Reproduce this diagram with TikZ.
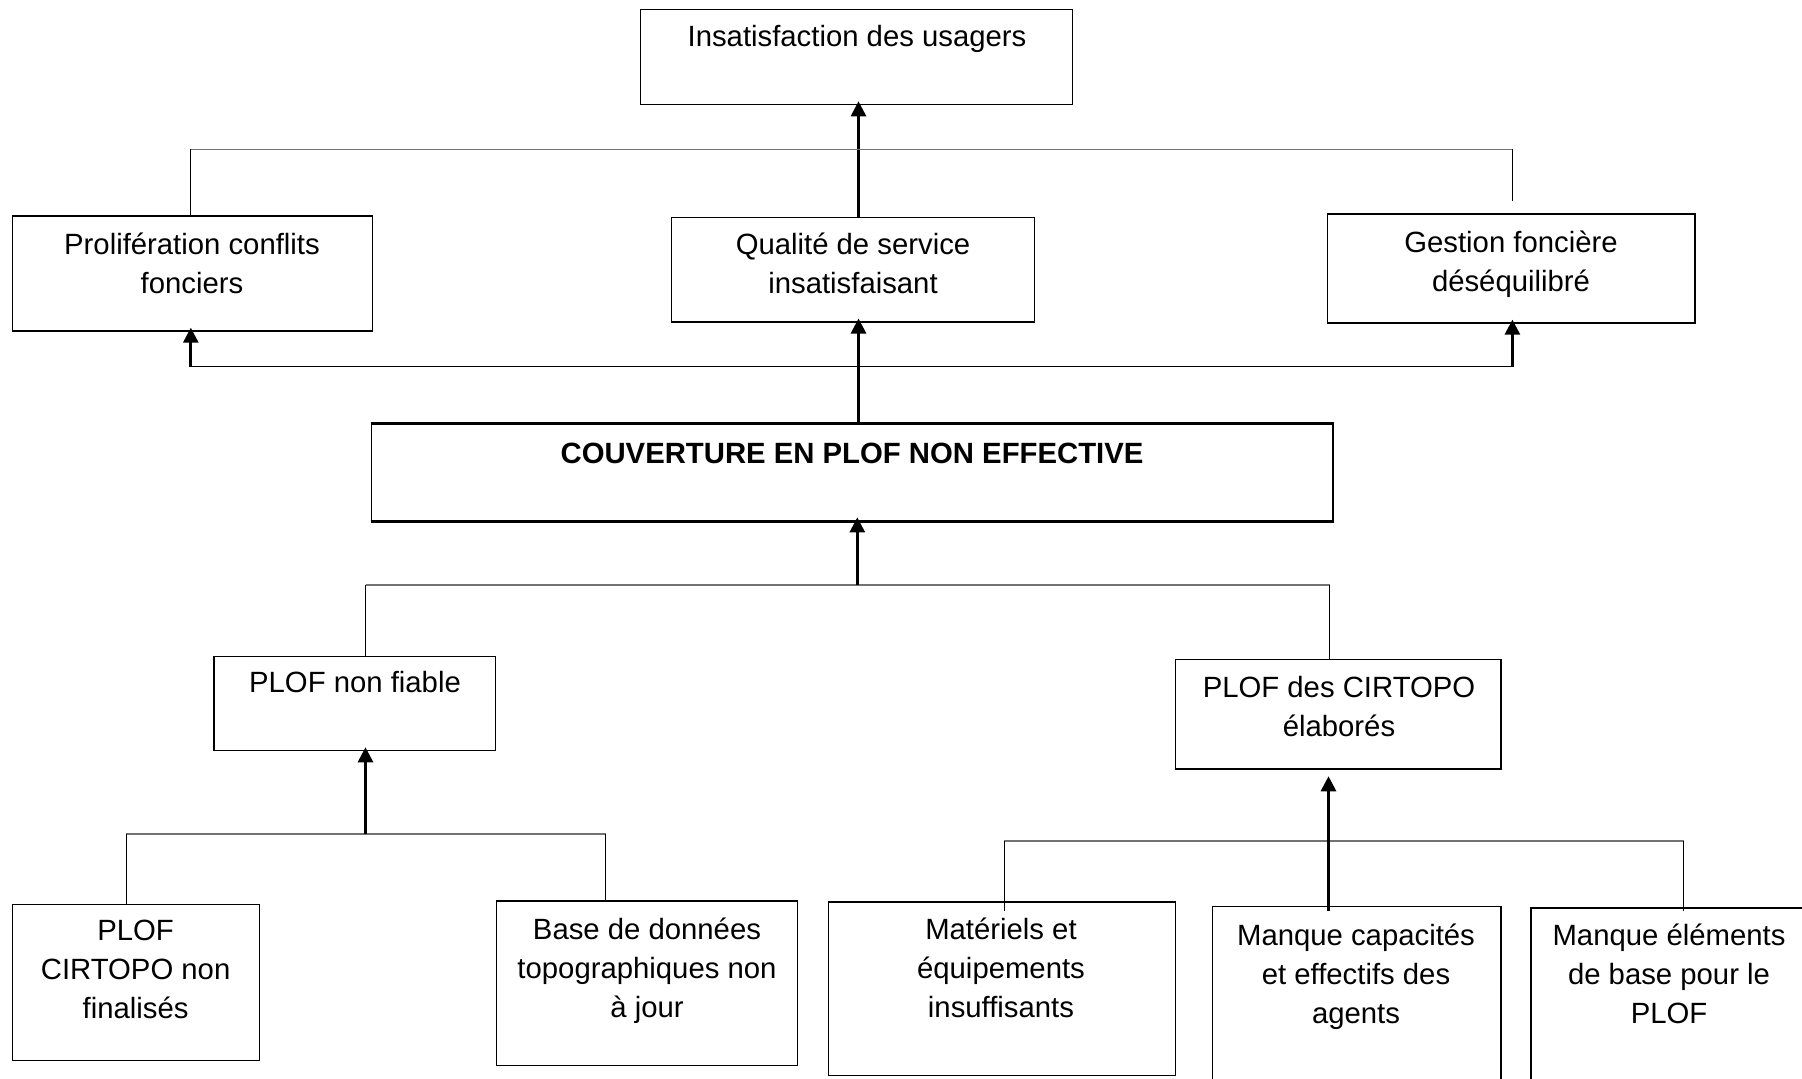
\documentclass[tikz,border=0pt]{standalone}
\usepackage{fontspec}
\setmainfont{Liberation Sans}
\usetikzlibrary{arrows.meta}
\begin{document}
\begin{tikzpicture}[x=1pt,y=-1pt,
  box/.style={draw=black,line width=1.4pt,rectangle,inner sep=0pt},
  lbl/.style={anchor=north,align=center,inner sep=0pt,font=\fontsize{29.3}{39}\selectfont},
  arr/.style={line width=2.8pt,draw=black,-{Triangle[length=15pt,width=15pt]},shorten >=-4pt},
  link/.style={line width=1pt,draw=black},
  bar/.style={line width=1.8pt,draw=black!55},
  barb/.style={line width=1.6pt,draw=black},
]
\useasboundingbox (0,0) rectangle (1802,1079);
\clip (0,0) rectangle (1802,1079);
\fill[white] (0,0) rectangle (1802,1079);

% boxes
\node[box,minimum width=432pt,minimum height=95.4pt] (insat) at (856.2,56.9) {};
\node[box,minimum width=359.7pt,minimum height=115pt] (prolif) at (192.5,273.5) {};
\node[box,minimum width=363.1pt,minimum height=104.6pt] (qual) at (852.8,269.5) {};
\node[box,minimum width=367.7pt,minimum height=109.1pt] (gest) at (1511.3,268.4) {};
\node[box,minimum width=961.9pt,minimum height=96.5pt] (couv) at (852.2,472.4) {};
\draw[line width=3.5pt] (couv.north west) -- (couv.north east);
\draw[line width=3.5pt] (couv.south west) -- (couv.south east);
\node[box,minimum width=281.5pt,minimum height=94.3pt] (nonfiable) at (354.6,703.4) {};
\node[box,minimum width=325.2pt,minimum height=109.1pt] (cirtopo) at (1338.3,714.3) {};
\node[box,minimum width=247.1pt,minimum height=156.3pt] (final) at (136.2,982.6) {};
\node[box,minimum width=301.1pt,minimum height=164.3pt] (base) at (647.1,983.2) {};
\node[box,minimum width=347.1pt,minimum height=173.6pt] (mat) at (1002.2,988.9) {};
\node[box,minimum width=288.5pt,minimum height=183.3pt] (capa) at (1356.7,998.4) {};
\node[box,minimum width=299.2pt,minimum height=182.1pt] (elem) at (1680.4,999) {};

% labels
\node[lbl] (t1) at (857,19) {\strut Insatisfaction des usagers};
\node[lbl] (t2) at (192,227) {\strut Prolifération conflits\\fonciers};
\node[lbl] (t3) at (853,227) {\strut Qualité de service\\insatisfaisant};
\node[lbl] (t4) at (1511,224.5) {\strut Gestion foncière\\déséquilibré};
\node[lbl,font=\fontsize{29.3}{39}\selectfont\bfseries] (t5) at (852,436) {\strut COUVERTURE EN PLOF NON EFFECTIVE};
\node[lbl] (t6) at (355,664.6) {\strut PLOF non fiable};
\node[lbl] (t7) at (1339,670.4) {\strut PLOF des CIRTOPO\\élaborés};
\node[lbl] (t8) at (135.6,913) {\strut PLOF\\CIRTOPO non\\finalisés};
\node[lbl] (t9) at (647,911.7) {\strut Base de données\\topographiques non\\à jour};
\node[lbl] (t10) at (1001,911.7) {\strut Matériels et\\équipements\\insuffisants};
\node[lbl] (t11) at (1356,917.5) {\strut Manque capacités\\et effectifs des\\agents};
\node[lbl] (t12) at (1669,917.5) {\strut Manque éléments\\de base pour le\\PLOF};

% connector x positions and junction levels
\coordinate (xA) at (858.5,0);
\coordinate (xL) at (190.8,0);
\coordinate (xR) at (1512.4,0);
\coordinate (xC) at (857.3,0);
\coordinate (xNF) at (365.5,0);
\coordinate (xCI) at (1329.7,0);
\coordinate (xF) at (126.4,0);
\coordinate (xB) at (605.6,0);
\coordinate (xM) at (1004.4,0);
\coordinate (xE) at (1683.6,0);
\coordinate (j1) at (0,149.4);
\coordinate (j2) at (0,366.5);
\coordinate (j3) at (0,584.7);
\coordinate (j4) at (0,833.9);
\coordinate (j5) at (0,840.8);
\coordinate (gend) at (1512.4,201);
\coordinate (cstart) at (1328.5,910.6);
\coordinate (mend) at (1004.4,910.6);
\coordinate (eend) at (1683.6,910.6);

% top level
\draw[arr] (qual.north -| xA) -- (insat.south -| xA);
\draw[bar] (xL |- j1) -- (xR |- j1);
\draw[link] (xL |- j1) -- (prolif.north -| xL);
\draw[link] (xR |- j1) -- (gend);

% second level
\draw[barb] (xL |- j2) -- (xR |- j2);
\draw[arr] (xL |- j2) -- (prolif.south -| xL);
\draw[arr] (xR |- j2) -- (gest.south -| xR);
\draw[arr] (couv.north -| xA) -- (qual.south -| xA);

% below couverture
\draw[bar] (xNF |- j3) -- (xCI |- j3);
\draw[arr] (xC |- j3) -- (couv.south -| xC);
\draw[link] (xNF |- j3) -- (nonfiable.north -| xNF);
\draw[link] (xCI |- j3) -- (cirtopo.north -| xCI);

% PLOF non fiable group
\draw[bar] (xF |- j4) -- (xB |- j4);
\draw[arr] (xNF |- j4) -- (nonfiable.south -| xNF);
\draw[link] (xF |- j4) -- (final.north -| xF);
\draw[link] (xB |- j4) -- (base.north -| xB);

% CIRTOPO group
\draw[bar] (xM |- j5) -- (xE |- j5);
\draw[arr,shorten >=6.7pt] (cstart) -- (cirtopo.south -| cstart);
\draw[link] (xM |- j5) -- (mend);
\draw[link] (xE |- j5) -- (eend);
\end{tikzpicture}
\end{document}
